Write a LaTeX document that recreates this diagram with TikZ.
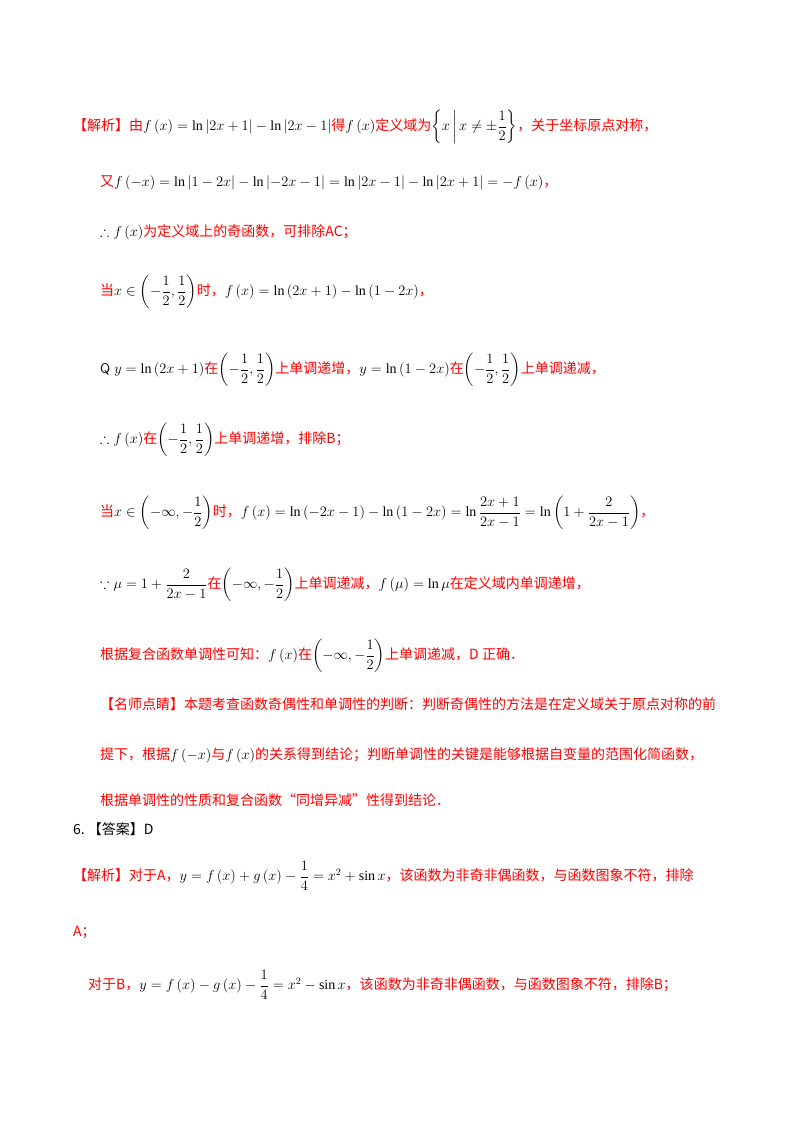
\documentclass[tikz,border=0pt]{standalone}
\usepackage{fontspec}
\usepackage{amsmath,amssymb}
\newfontfamily\cjk{Noto Sans CJK SC}
\setmainfont{Liberation Serif}
\tikzset{ln/.style={anchor=west,inner sep=0pt,font=\fontsize{14}{16}\selectfont}}
\newcommand{\R}[1]{{\cjk\color{red}#1}}
\begin{document}
\begin{tikzpicture}[x=1pt,y=-1pt]
\useasboundingbox (0,0) rectangle (800,1132);
\node[ln] (l1) at (73,127) {\R{【解析】由}$f\left(x\right)=\ln\left|2x+1\right|-\ln\left|2x-1\right|$\R{得}$f\left(x\right)$\R{定义域为}$\left\{x\,\middle|\,x\neq\pm\dfrac{1}{2}\right\}$\R{，关于坐标原点对称，}};
\node[ln] (l2) at (100,183) {\R{又}$f\left(-x\right)=\ln\left|1-2x\right|-\ln\left|-2x-1\right|=\ln\left|2x-1\right|-\ln\left|2x+1\right|=-f\left(x\right)$\R{，}};
\node[ln] (l3) at (100,232) {$\therefore f\left(x\right)$\R{为定义域上的奇函数，可排除AC；}};
\node[ln] (l4) at (100,292) {\R{当}$x\in\left(-\dfrac{1}{2},\dfrac{1}{2}\right)$\R{时，}$f\left(x\right)=\ln\left(2x+1\right)-\ln\left(1-2x\right)$\R{，}};
\node[ln] (l5) at (100,370) {$\mathsf{Q}\;y=\ln\left(2x+1\right)$\R{在}$\left(-\dfrac{1}{2},\dfrac{1}{2}\right)$\R{上单调递增，}$y=\ln\left(1-2x\right)$\R{在}$\left(-\dfrac{1}{2},\dfrac{1}{2}\right)$\R{上单调递减，}};
\node[ln] (l6) at (100,440) {$\therefore f\left(x\right)$\R{在}$\left(-\dfrac{1}{2},\dfrac{1}{2}\right)$\R{上单调递增，排除B；}};
\node[ln] (l7) at (100,513) {\R{当}$x\in\left(-\infty,-\dfrac{1}{2}\right)$\R{时，}$f\left(x\right)=\ln\left(-2x-1\right)-\ln\left(1-2x\right)=\ln\dfrac{2x+1}{2x-1}=\ln\left(1+\dfrac{2}{2x-1}\right)$\R{，}};
\node[ln] (l8) at (100,585) {$\because \mu=1+\dfrac{2}{2x-1}$\R{在}$\left(-\infty,-\dfrac{1}{2}\right)$\R{上单调递减，}$f\left(\mu\right)=\ln\mu$\R{在定义域内单调递增，}};
\node[ln] (l9) at (100,656) {\R{根据复合函数单调性可知：}$f\left(x\right)$\R{在}$\left(-\infty,-\dfrac{1}{2}\right)$\R{上单调递减，D 正确．}};
\node[ln] (l10) at (100,704) {\R{【名师点睛】本题考查函数奇偶性和单调性的判断：判断奇偶性的方法是在定义域关于原点对称的前}};
\node[ln] (l11) at (100,755) {\R{提下，根据}$f\left(-x\right)$\R{与}$f\left(x\right)$\R{的关系得到结论；判断单调性的关键是能够根据自变量的范围化简函数，}};
\node[ln] (l12) at (100,800) {\R{根据单调性的性质和复合函数“同增异减”性得到结论．}};
\node[ln] (l13) at (73,829) {{\cjk 6.\ 【答案】D}};
\node[ln] (l14) at (73,876) {\R{【解析】对于A，}$y=f\left(x\right)+g\left(x\right)-\dfrac{1}{4}=x^{2}+\sin x$\R{，该函数为非奇非偶函数，与函数图象不符，排除}};
\node[ln] (l15) at (73,932) {\R{A；}};
\node[ln] (l16) at (88,985) {\R{对于B，}$y=f\left(x\right)-g\left(x\right)-\dfrac{1}{4}=x^{2}-\sin x$\R{，该函数为非奇非偶函数，与函数图象不符，排除B；}};
\end{tikzpicture}
\end{document}
